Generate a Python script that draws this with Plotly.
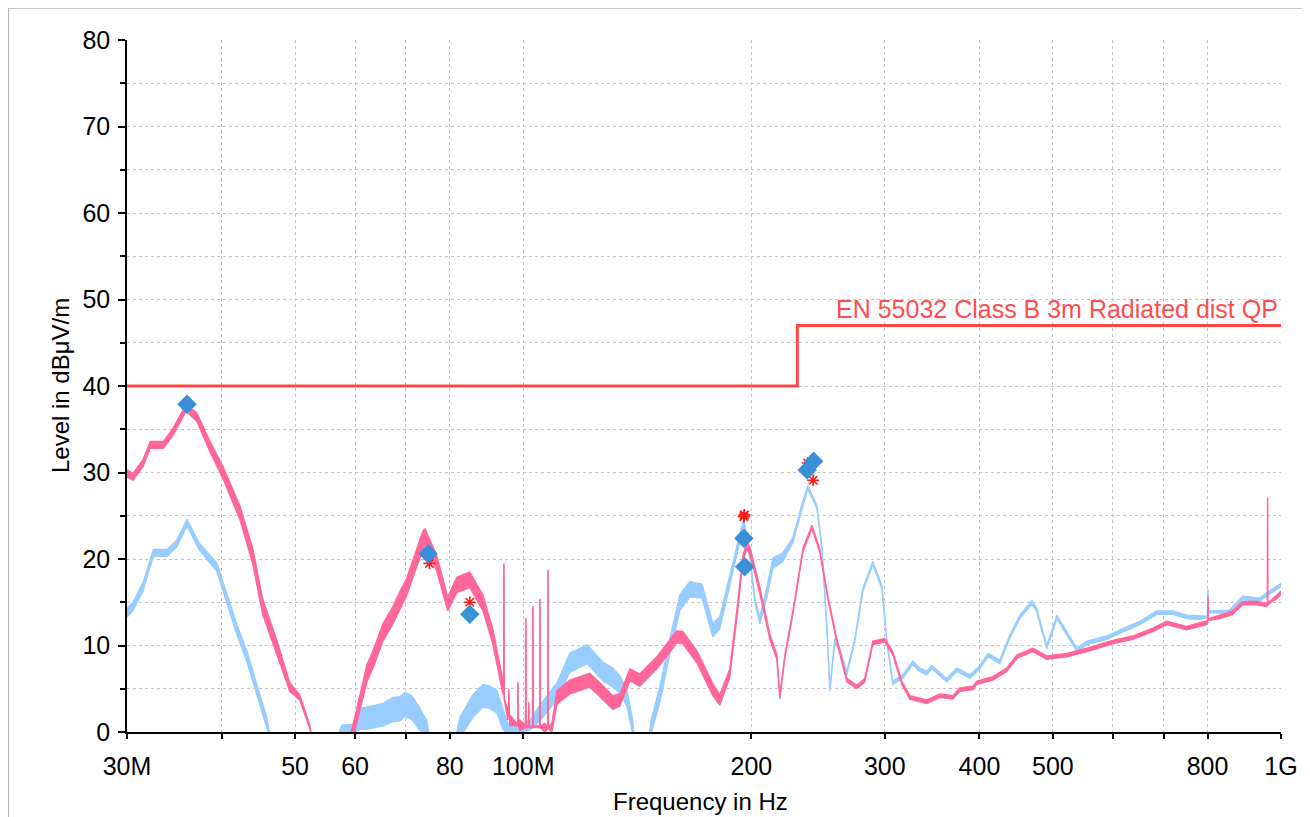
import numpy as np
import plotly.graph_objects as go

# ---------------- data (frequency in MHz, level in dBuV/m) ----------------
pink_freq = [30.0, 30.55, 31.5, 32.2, 33.5, 34.5, 35.9, 37.1, 38.6, 40.2, 42.3, 44.0, 45.3, 47.3, 49.2,
             50.7, 52.3, 53.1, 58.2, 59.6, 62.2, 63.3, 65.3, 67.3, 68.8, 70.2, 72.0, 73.7, 74.2, 76.9,
             79.5, 81.7, 85.0, 88.5, 91.2, 94.0, 94.2, 94.3, 94.4, 95.4, 95.6, 95.7, 95.8, 96.0,
             98.3, 98.4, 98.5, 99.0, 100.7, 100.8, 100.9, 101.6, 101.7, 101.8, 102.9, 103.0, 103.1,
             105.1, 105.2, 105.3, 106.8, 107.7, 107.8, 107.9, 109.1, 110.8, 115.2, 122.4, 126.2,
             131.3, 134.1, 138.3, 142.5, 150.1, 159.5, 162.4, 169.5, 177.9, 181.7, 187.3, 191.9,
             194.9, 197.2, 199.1, 205.2, 211.6, 216.1, 218.1, 221.4, 226.9, 233.9, 240.4, 246.2,
             252.3, 259.3, 267.3, 275.6, 282.3, 289.3, 300.0, 307.4, 315.9, 323.7, 340.8, 354.6,
             369.0, 376.9, 392.1, 396.9, 416.4, 434.6, 448.1, 470.3, 490.7, 521.6, 554.4, 599.8,
             637.3, 677.2, 706.6, 750.7, 797.9, 800.5, 801.0, 801.5, 830.1, 863.5, 890.0, 928.8,
             957.5, 959.6, 960.0, 960.4, 987.0, 1000.0]
pink_level = [29.9, 29.5, 31.1, 33.2, 33.2, 34.7, 37.5, 36.4, 33.0, 29.9, 25.3, 20.2, 14.5, 9.8, 5.2,
              4.0, 0.6, -3.0, -3.0, 0.0, 6.8, 8.3, 11.5, 13.5, 15.3, 16.8, 19.6, 22.2, 22.6, 19.5,
              14.8, 17.0, 17.6, 14.9, 11.0, 5.2, 4.5, 19.4, 3.8, 2.0, 2.0, 4.9, 1.8, 1.4,
              0.8, 5.7, 0.8, 0.8, 0.6, 13.1, 0.6, 0.6, 3.4, 0.6, 0.6, 14.5, 0.6,
              0.6, 15.3, 0.6, 0.5, 0.5, 18.7, 0.5, 0.5, 4.0, 5.2, 6.0, 4.9,
              3.4, 3.7, 6.6, 6.0, 8.0, 11.0, 10.9, 8.7, 4.9, 3.7, 6.8, 14.5,
              19.9, 21.6, 21.0, 16.4, 11.0, 8.7, 4.0, 8.7, 13.8, 21.0, 23.7, 21.0,
              15.6, 10.6, 6.0, 5.2, 6.0, 10.3, 10.6, 9.1, 5.7, 4.0, 3.5, 4.2,
              4.0, 4.9, 5.1, 5.7, 6.2, 7.2, 8.7, 9.5, 8.6, 8.9, 9.5, 10.4,
              10.9, 11.8, 12.6, 12.0, 12.6, 12.8, 15.6, 13.0, 13.3, 13.8, 14.9, 14.9,
              14.7, 14.7, 27.0, 14.8, 15.6, 16.1]
pink_spread = [0.4, 0.4, 0.4, 0.4, 0.4, 0.4, 0.4, 0.5, 0.6, 0.7, 0.8, 0.9, 0.9, 0.8, 0.5,
               0.3, 0.2, 0.2, 0.8, 0.8, 1.0, 1.0, 1.0, 1.0, 1.0, 1.0, 1.0, 1.0, 0.9, 0.9,
               0.8, 0.9, 0.9, 0.9, 0.9, 0.8, 0.1, 0.1, 0.1, 0.6, 0.1, 0.1, 0.1, 0.6,
               0.1, 0.1, 0.1, 0.6, 0.1, 0.1, 0.1, 0.1, 0.1, 0.1, 0.1, 0.1, 0.1,
               0.1, 0.1, 0.1, 0.5, 0.1, 0.1, 0.1, 0.5, 0.8, 0.8, 0.8, 0.8,
               0.8, 0.7, 0.7, 0.7, 0.7, 0.7, 0.7, 0.7, 0.7, 0.6, 0.5, 0.5,
               0.4, 0.4, 0.4, 0.4, 0.3, 0.3, 0.2, 0.2, 0.2, 0.2, 0.2, 0.2,
               0.2, 0.2, 0.2, 0.2, 0.2, 0.2, 0.2, 0.2, 0.2, 0.2, 0.2, 0.2,
               0.2, 0.2, 0.2, 0.2, 0.2, 0.2, 0.2, 0.2, 0.2, 0.2, 0.2, 0.2,
               0.2, 0.2, 0.2, 0.2, 0.2, 0.1, 0.1, 0.1, 0.2, 0.2, 0.2, 0.2,
               0.2, 0.1, 0.1, 0.1, 0.2, 0.2]

blue_freq = [30.0, 30.55, 31.5, 32.5, 33.9, 34.9, 36.0, 37.4, 39.4, 40.6, 41.9, 43.2, 44.5, 45.9, 46.6,
             56.4, 57.6, 59.1, 59.6, 60.9, 62.2, 63.7, 65.3, 67.3, 68.8, 69.8, 71.3, 73.0, 74.6, 75.4,
             81.2, 82.5, 85.8, 88.5, 90.4, 92.3, 94.0, 95.4, 99.0, 102.1, 105.2, 110.8, 115.2, 121.4,
             127.4, 131.3, 134.1, 137.0, 139.5, 140.5, 146.1, 147.4, 151.5, 156.2, 161.0, 165.9,
             172.1, 177.9, 181.7, 189.1, 193.1, 195.5, 199.1, 202.1, 205.2, 209.6, 213.5, 220.1,
             226.9, 233.2, 237.4, 244.1, 247.8, 251.6, 253.9, 257.7, 261.7, 267.3, 273.9, 280.6,
             289.3, 297.3, 301.8, 307.4, 316.9, 326.6, 333.7, 340.8, 346.0, 362.2, 373.5, 388.6,
             400.6, 410.5, 425.5, 438.6, 452.2, 468.9, 476.1, 490.7, 506.1, 521.6, 537.7, 554.4,
             589.0, 612.6, 651.1, 685.6, 719.8, 750.7, 781.2, 799.5, 801.0, 802.5, 855.5, 890.0,
             936.8, 975.3, 1000.0]
blue_level = [13.8, 14.5, 16.8, 20.7, 20.7, 21.8, 24.2, 21.4, 19.1, 15.6, 11.8, 8.7, 4.9, 1.0, -2.0,
              -2.0, 0.4, 0.5, 0.3, 1.5, 1.6, 1.8, 2.0, 2.6, 2.7, 3.2, 2.8, 1.5, 0.3, -2.0,
              -2.0, 0.5, 3.0, 4.2, 4.0, 3.5, 1.5, 0.4, 0.4, 0.8, 2.2, 4.7, 8.0, 9.0,
              7.0, 6.3, 5.5, 4.0, 0.5, -2.0, -2.0, 0.5, 4.4, 10.0, 15.0, 16.5,
              16.3, 11.8, 12.6, 19.1, 22.5, 24.3, 20.2, 15.3, 12.9, 16.1, 19.5, 20.2,
              22.2, 26.0, 28.3, 26.0, 21.4, 12.1, 4.9, 10.6, 9.5, 6.8, 10.6, 16.4,
              19.5, 16.8, 10.6, 5.7, 6.4, 8.0, 7.2, 6.8, 7.5, 6.0, 7.2, 6.4,
              7.5, 8.9, 8.1, 11.0, 13.3, 15.0, 14.1, 9.8, 13.3, 11.4, 9.5, 10.3,
              10.9, 11.6, 12.6, 13.8, 13.8, 13.3, 13.2, 13.3, 16.4, 13.9, 13.9, 15.5,
              15.3, 16.4, 17.0]
blue_spread = [0.5, 0.5, 0.5, 0.4, 0.4, 0.4, 0.4, 0.4, 0.5, 0.6, 0.6, 0.6, 0.6, 0.6, 0.5,
               0.5, 0.4, 0.4, 0.6, 1.2, 1.3, 1.3, 1.3, 1.4, 1.4, 1.4, 1.4, 1.3, 1.0, 1.0,
               1.0, 1.2, 1.3, 1.3, 1.3, 1.3, 1.2, 0.6, 0.5, 0.6, 0.9, 1.0, 1.1, 1.1,
               1.1, 1.1, 1.0, 1.0, 0.8, 0.8, 0.8, 0.8, 0.9, 0.9, 0.9, 0.9,
               0.8, 0.8, 0.7, 0.6, 0.4, 0.3, 0.3, 0.3, 0.4, 0.6, 0.6, 0.5,
               0.3, 0.3, 0.2, 0.2, 0.2, 0.2, 0.2, 0.2, 0.2, 0.2, 0.2, 0.2,
               0.2, 0.2, 0.2, 0.2, 0.2, 0.2, 0.2, 0.2, 0.2, 0.2, 0.2, 0.2,
               0.2, 0.2, 0.2, 0.2, 0.2, 0.2, 0.2, 0.2, 0.2, 0.2, 0.2, 0.2,
               0.2, 0.2, 0.2, 0.2, 0.2, 0.2, 0.2, 0.1, 0.1, 0.1, 0.2, 0.2,
               0.2, 0.2, 0.2]

limit_freq = [30.0, 230.0, 230.0, 1000.0]
limit_level = [40.0, 40.0, 47.0, 47.0]
limit_name = "EN 55032 Class B 3m Radiated dist QP"

qp_freq = [36.0, 74.9, 85.0, 195.5, 196.0, 237.0, 241.7]
qp_level = [37.9, 20.6, 13.6, 22.4, 19.1, 30.3, 31.3]

pk_freq = [75.2, 85.0, 195.5, 195.8, 237.4, 241.3]
pk_level = [19.5, 15.0, 24.9, 25.1, 31.1, 29.1]

tick_mhz = [30, 40, 50, 60, 70, 80, 100, 200, 300, 400, 500, 600, 700, 800, 1000]
tick_text = ["30M", "", "50", "60", "", "80", "100M", "200", "300", "400", "500", "", "", "800", "1G"]

# ---------------- figure ----------------
MHZ = 1e6
PINK = "#ff6699"
BLUE = "#99ccff"
FONT = "Liberation Sans, Arial, sans-serif"

fig = go.Figure()


def add_band(freq, level, spread, color):
    f = np.array(freq) * MHZ
    lv = np.array(level)
    sp = np.array(spread)
    fig.add_trace(go.Scatter(x=f, y=lv - sp, mode="lines",
                             line=dict(color=color, width=1.3), hoverinfo="skip"))
    fig.add_trace(go.Scatter(x=f, y=lv + sp, mode="lines", fill="tonexty", fillcolor=color,
                             line=dict(color=color, width=1.3), hoverinfo="skip"))


add_band(blue_freq, blue_level, blue_spread, BLUE)
add_band(pink_freq, pink_level, pink_spread, PINK)

fig.add_trace(go.Scatter(x=np.array(limit_freq) * MHZ, y=limit_level, mode="lines",
                         line=dict(color="#ff4747", width=3)))

fig.add_trace(go.Scatter(x=np.array(pk_freq) * MHZ, y=pk_level, mode="markers",
                         marker=dict(symbol="asterisk-open", size=10, color="#ff1a1a",
                                     line=dict(color="#ff1a1a", width=1.6))))
fig.add_trace(go.Scatter(x=np.array(qp_freq) * MHZ, y=qp_level, mode="markers",
                         marker=dict(symbol="diamond", size=15, color="#3a90d8",
                                     line=dict(width=0))))

fig.add_annotation(x=np.log10(limit_freq[-1] * MHZ), y=limit_level[-1], xref="x", yref="y",
                   text=limit_name, showarrow=False, xanchor="right", yanchor="bottom",
                   xshift=-1, yshift=0, font=dict(family=FONT, size=25, color="#ff4d4d"))

# axis titles
fig.add_annotation(x=-0.058, y=0.5, xref="paper", yref="paper", text="Level in dBμV/m",
                   textangle=-90, showarrow=False, xanchor="center", yanchor="middle",
                   font=dict(family=FONT, size=24, color="black"))
fig.add_annotation(x=0.497, y=0, xref="paper", yref="paper", text="Frequency in Hz",
                   showarrow=False, xanchor="center", yanchor="middle", yshift=-69,
                   font=dict(family=FONT, size=24, color="black"))

# outer frame lines (left and top)
fig.add_shape(type="line", xref="paper", yref="paper", x0=-0.1028, x1=-0.1028, y0=-0.13, y1=1.0462,
              line=dict(color="#b4b4b4", width=1.5))
fig.add_shape(type="line", xref="paper", yref="paper", x0=-0.1028, x1=1.05, y0=1.0462, y1=1.0462,
              line=dict(color="#b4b4b4", width=1.5))

GRID = "#c4c4c4"
fig.update_layout(
    width=1302, height=809,
    margin=dict(l=119, r=25, t=32, b=85),
    plot_bgcolor="white", paper_bgcolor="white",
    showlegend=False,
    font=dict(family=FONT, color="black"),
    xaxis=dict(type="log", range=[np.log10(30e6), np.log10(1e9)],
               tickvals=[t * MHZ for t in tick_mhz], ticktext=tick_text,
               showgrid=True, gridcolor=GRID, griddash="dot", gridwidth=1,
               showline=True, linecolor="black", linewidth=1.5,
               ticks="outside", ticklen=5, tickwidth=1.5, tickcolor="black",
               tickfont=dict(size=25), ticklabelstandoff=6, zeroline=False),
    yaxis=dict(range=[0, 80], dtick=10, tick0=0,
               showgrid=True, gridcolor=GRID, griddash="dot", gridwidth=1,
               showline=True, linecolor="black", linewidth=1.5,
               ticks="outside", ticklen=7, tickwidth=1.5, tickcolor="black",
               tickfont=dict(size=25), ticklabelstandoff=3, zeroline=False,
               minor=dict(dtick=5, ticks="outside", ticklen=5, tickwidth=1.5, tickcolor="black",
                          showgrid=True, gridcolor=GRID, griddash="dot", gridwidth=1)),
)

fig.write_html("out.html")
